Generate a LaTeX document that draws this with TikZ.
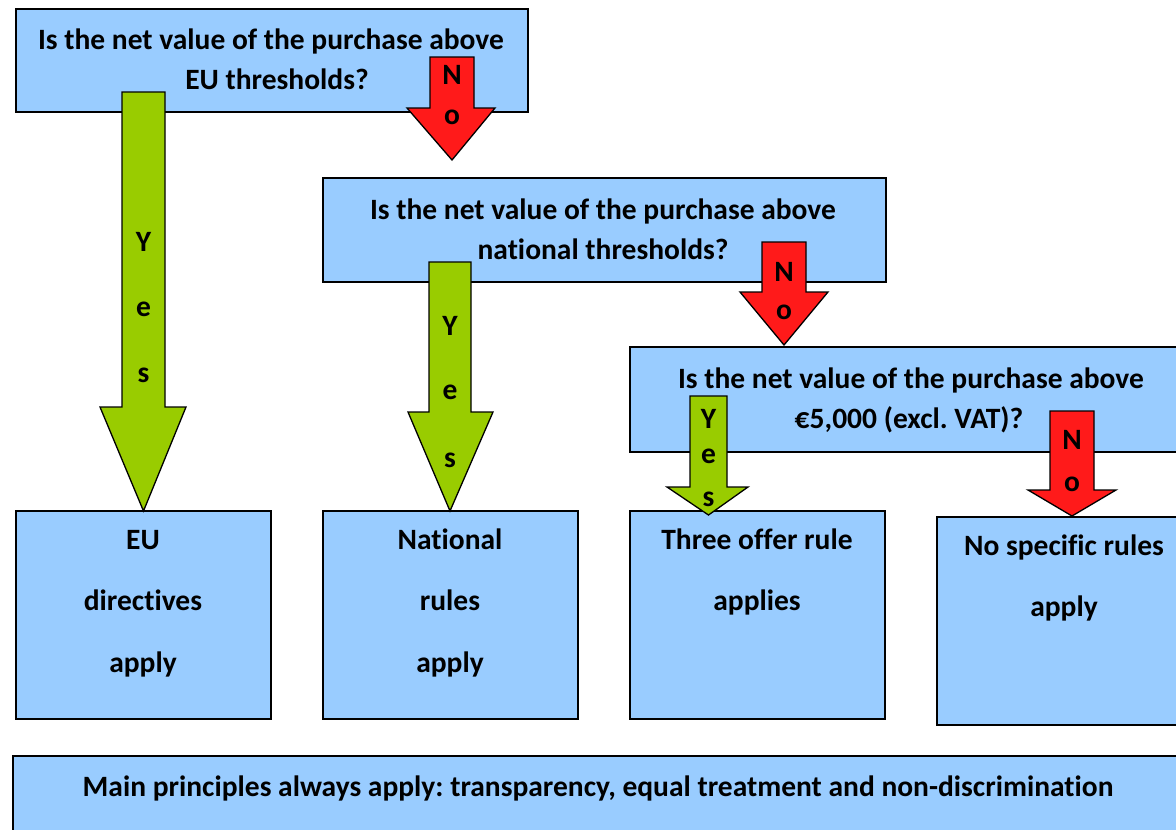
\documentclass[tikz,border=0pt]{standalone}
\usepackage{fontspec}
\setmainfont[Ligatures=NoCommon]{Carlito}
\frenchspacing
\definecolor{boxblue}{HTML}{99CCFF}
\definecolor{argreen}{HTML}{99CC00}
\definecolor{arred}{HTML}{FF1A1A}
\tikzset{
  box/.style={draw=black, line width=1.5pt, fill=boxblue, inner sep=0pt, anchor=north west},
  txt/.style={anchor=base, inner sep=0pt, font=\fontsize{29.5}{34}\selectfont\bfseries},
  yesarrow/.style={draw=black, line width=1.3pt, fill=argreen, line join=miter},
  noarrow/.style={draw=black, line width=1.3pt, fill=arred, line join=miter}
}
\newcommand{\downarrowshape}[8]{% style, x1, x2, ytop, yhead, x3, x4, ytip
  \draw[#1] (#2,#4) -- (#3,#4) -- (#3,#5) -- (#7,#5) -- ({(#2+#3)/2},#8) -- (#6,#5) -- (#2,#5) -- cycle;}
\begin{document}
\begin{tikzpicture}[x=1pt,y=-1pt]
\useasboundingbox (0,0) rectangle (1176,830);
\clip (0,0) rectangle (1176,830);
% question boxes
\node[box, minimum width=512pt, minimum height=103pt] (q1) at (15,8) {};
\node[box, minimum width=563pt, minimum height=104pt] (q2) at (322,177) {};
\node[box, minimum width=563pt, minimum height=105pt] (q3) at (629,346) {};
% result boxes
\node[box, minimum width=255pt, minimum height=208pt] (r1) at (15,510) {};
\node[box, minimum width=255pt, minimum height=208pt] (r2) at (322,510) {};
\node[box, minimum width=255pt, minimum height=208pt] (r3) at (629,510) {};
\node[box, minimum width=256pt, minimum height=208pt] (r4) at (936,516) {};
\node[box, minimum width=1172pt, minimum height=100pt] (mp) at (12,755) {};
% question texts
\node[txt] (q1a) at (271,49) {Is the net value of the purchase above};
\node[txt] (q1b) at (277,89) {EU thresholds?};
\node[txt] (q2a) at (603,219) {Is the net value of the purchase above};
\node[txt] (q2b) at (603,259) {national thresholds?};
\node[txt] (q3a) at (911,388) {Is the net value of the purchase above};
\node[txt] (q3b) at (909,428) {€5,000 (excl. VAT)?};
% result texts
\node[txt] (r1a) at (143,549) {EU};
\node[txt] (r1b) at (143,610) {directives};
\node[txt] (r1c) at (143,672) {apply};
\node[txt] (r2a) at (450,549) {National};
\node[txt] (r2b) at (450,610) {rules};
\node[txt] (r2c) at (450,672) {apply};
\node[txt] (r3a) at (757,549) {Three offer rule};
\node[txt] (r3b) at (757,610) {applies};
\node[txt] (r4a) at (1064,555) {No specific rules};
\node[txt] (r4b) at (1064,616) {apply};
\node[txt] (mpa) at (598,796) {Main principles always apply: transparency, equal treatment and non-discrimination};
% arrows
\downarrowshape{yesarrow}{122}{165}{92}{407}{100}{186}{511}
\downarrowshape{noarrow}{430}{474}{57}{108}{407}{495}{160}
\downarrowshape{yesarrow}{429}{471}{262}{412}{408}{493}{511}
\downarrowshape{noarrow}{762}{806}{242}{292}{740}{828}{345}
\downarrowshape{yesarrow}{690}{727}{396}{487}{667}{748}{515}
\downarrowshape{noarrow}{1050}{1094}{411}{490}{1028}{1116}{516}
% arrow letters
\node[txt] (y1a) at (143.5,251) {Y};
\node[txt] (y1b) at (143.5,316) {e};
\node[txt] (y1c) at (143.5,382) {s};
\node[txt] (n1a) at (452,84) {N};
\node[txt] (n1b) at (452,124) {o};
\node[txt] (y2a) at (450,335) {Y};
\node[txt] (y2b) at (450,399) {e};
\node[txt] (y2c) at (450,467) {s};
\node[txt] (n2a) at (784,281) {N};
\node[txt] (n2b) at (784,319) {o};
\node[txt] (y3a) at (708.5,428) {Y};
\node[txt] (y3b) at (708.5,463) {e};
\node[txt] (y3c) at (708.5,506) {s};
\node[txt] (n3a) at (1072,449) {N};
\node[txt] (n3b) at (1072,491) {o};
\end{tikzpicture}
\end{document}
